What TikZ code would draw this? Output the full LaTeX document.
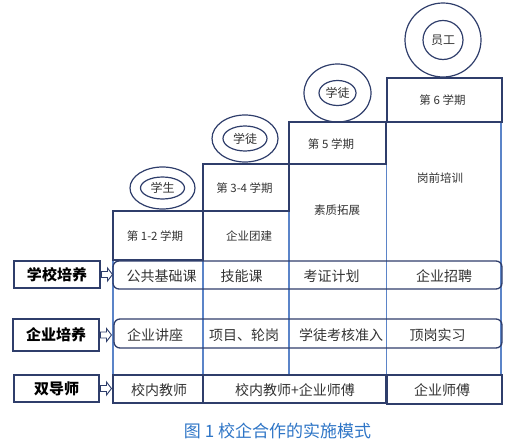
\documentclass[tikz,border=0pt]{standalone}
\usepackage{fontspec}
\usetikzlibrary{shapes.geometric,calc}
\newfontfamily\cjk{Noto Sans CJK SC}
\definecolor{navy}{HTML}{2F3E6B}
\definecolor{lblue}{HTML}{5B84C8}
\definecolor{txt}{HTML}{333333}
\definecolor{capblue}{HTML}{2E75C6}
\tikzset{
  navyline/.style={draw=navy, line width=1.3pt},
  cell/.style={rectangle, navyline, inner sep=0pt, outer sep=0pt},
  smalltxt/.style={font=\cjk\fontsize{11.5}{13}\selectfont, text=txt, inner sep=0pt},
  rowtxt/.style={font=\cjk\fontsize{14}{16}\selectfont, text=txt, inner sep=0pt},
  ringtxt/.style={font=\cjk\fontsize{12}{14}\selectfont, text=txt},
  labbox/.style={cell, font=\cjk\bfseries\fontsize{15}{17}\selectfont, text=black},
  ring/.style={ellipse, draw=navy, line width=1.2pt, inner sep=0pt},
  vline/.style={draw=lblue, line width=1.1pt},
  harrow/.style={draw=navy, line width=0.9pt, fill=white, line join=miter}
}
\newcommand\hollowarrow[1]{%
  \draw[harrow] ($(#1.east)+(1.5,-3)$) -- ++(6,0) -- ++(0,-3.5) -- ++(5,6.5)
    -- ++(-5,6.5) -- ++(0,-3.5) -- ++(-6,0) -- cycle;}
\begin{document}
\begin{tikzpicture}[x=1pt,y=-1pt]
\useasboundingbox (0,0) rectangle (524,441);

% light vertical lines
\draw[vline] (113,260) -- (113,375);
\draw[vline] (203,211) -- (203,375);
\draw[vline] (289,164) -- (289,375);
\draw[vline] (386.5,122) -- (386.5,375);
\draw[vline] (501,122) -- (501,375);

% top step boxes
\node[cell, minimum width=115pt, minimum height=44pt] (p6) at (444.5,100) {};
\node[cell, minimum width=97pt, minimum height=42pt] (p5) at (337.5,143) {};
\node[cell, minimum width=86pt, minimum height=47pt] (p34) at (246,187.5) {};
\node[cell, minimum width=90pt, minimum height=49pt] (p12) at (158,235.5) {};

\node[smalltxt] (t6) at (442.5,100) {第 6 学期};
\node[smalltxt] (t5) at (331,144) {第 5 学期};
\node[smalltxt] (t34) at (244.5,188) {第 3-4 学期};
\node[smalltxt] (t12) at (155,236) {第 1-2 学期};
\node[smalltxt] (tb) at (249,236) {企业团建};
\node[smalltxt] (tz) at (337,210) {素质拓展};
\node[smalltxt] (tg) at (440,178) {岗前培训};

% rings
\node[ring, minimum width=65pt, minimum height=42pt] (o1) at (162.5,188) {};
\node[ring, minimum width=44pt, minimum height=22pt, ringtxt] (i1) at (162.5,188) {学生};
\node[ring, minimum width=66pt, minimum height=47pt] (o2) at (245,138.5) {};
\node[ring, minimum width=44pt, minimum height=25pt, ringtxt] (i2) at (245,138.5) {学徒};
\node[ring, minimum width=67pt, minimum height=58pt] (o3) at (337.5,93) {};
\node[ring, minimum width=37pt, minimum height=25pt, ringtxt] (i3) at (337.5,93) {学徒};
\node[ring, minimum width=76pt, minimum height=74pt] (o4) at (443,40) {};
\node[ring, minimum width=40pt, minimum height=39pt, ringtxt] (i4) at (443,40) {员工};

% rounded rows
\node[cell, rounded corners=6pt, minimum width=389pt, minimum height=28pt] (r1) at (307.5,275) {};
\node[cell, rounded corners=6pt, minimum width=388pt, minimum height=29pt] (r2) at (308,333.5) {};

\node[rowtxt] (a1) at (161.5,276) {公共基础课};
\node[rowtxt] (a2) at (241.5,276) {技能课};
\node[rowtxt] (a3) at (331.5,276) {考证计划};
\node[rowtxt] (a4) at (444,276) {企业招聘};

\node[rowtxt] (b1) at (155,335) {企业讲座};
\node[rowtxt] (b2) at (244,335) {项目、轮岗};
\node[rowtxt] (b3) at (341,335) {学徒考核准入};
\node[rowtxt] (b4) at (437.5,335) {顶岗实习};

% tutor row
\node[cell, minimum width=90pt, minimum height=28pt] (c1) at (158,389) {};
\node[cell, minimum width=183pt, minimum height=28pt] (c2) at (294.5,389) {};
\node[cell, minimum width=115pt, minimum height=29pt] (c3) at (444.5,389.5) {};
\node[rowtxt] (d1) at (159,390.5) {校内教师};
\node[rowtxt] (d2) at (295,390.5) {校内教师+企业师傅};
\node[rowtxt] (d3) at (442,390.5) {企业师傅};

% left labels
\node[labbox, minimum width=86pt, minimum height=27pt] (L1) at (57,274.5) {学校培养};
\node[labbox, minimum width=86pt, minimum height=32pt] (L2) at (56,335) {企业培养};
\node[labbox, minimum width=85pt, minimum height=27pt] (L3) at (56.5,388.5) {双导师};

\hollowarrow{L1}
\hollowarrow{L2}
\hollowarrow{L3}

% caption
\node[font=\cjk\fontsize{17}{19}\selectfont, text=capblue, inner sep=0pt] (cap) at (277.5,431) {图 1 校企合作的实施模式};
\end{tikzpicture}
\end{document}
